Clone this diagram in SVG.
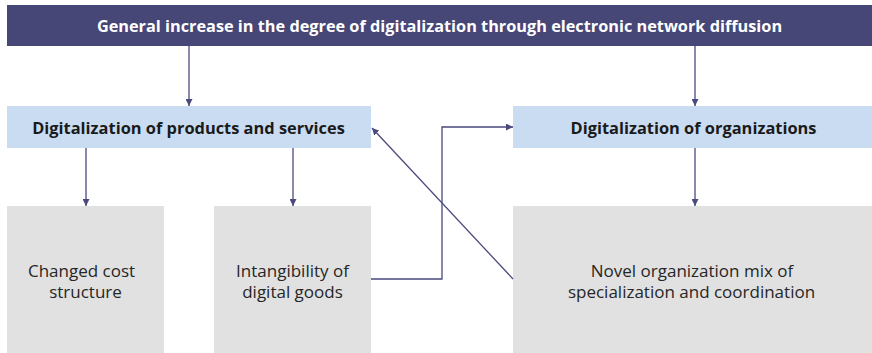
<svg xmlns="http://www.w3.org/2000/svg" width="872" height="353" viewBox="0 0 872 353">
<defs>
<style>
.top{fill:#464677}
.blue{fill:#cadcf2}
.grey{fill:#e1e1e1}
.t1{font-family:"Open Sans","Noto Sans",sans-serif;font-weight:bold;font-size:16.3px;fill:#ffffff;text-anchor:middle}
.t2{font-family:"Open Sans","Noto Sans",sans-serif;font-weight:bold;font-size:16.4px;fill:#1a1a1a;text-anchor:middle}
.t3{font-family:"Open Sans","Noto Sans",sans-serif;font-size:17px;fill:#262626;text-anchor:middle}
.c{fill:none;stroke:#4a4a7e;stroke-width:1.3}
</style>
<marker id="ah" viewBox="0 0 10 10" refX="10" refY="5" markerWidth="7" markerHeight="7" markerUnits="userSpaceOnUse" orient="auto">
<path d="M0,0 L10,5 L0,10 z" fill="#4a4a7e"/>
</marker>
</defs>
<g id="n-top">
<rect class="top" x="7" y="5" width="865" height="41"/>
<text class="t1" x="439.5" y="31.5">General increase in the degree of digitalization through electronic network diffusion</text>
</g>
<g id="n-products">
<rect class="blue" x="7" y="106" width="364" height="42"/>
<text class="t2" x="188.5" y="133.5">Digitalization of products and services</text>
</g>
<g id="n-organizations">
<rect class="blue" x="513" y="106" width="359" height="42"/>
<text class="t2" x="693.5" y="133.5">Digitalization of organizations</text>
</g>
<g id="n-cost">
<rect class="grey" x="7" y="206" width="157" height="147"/>
<text class="t3"><tspan x="81.5" y="276.5">Changed cost</tspan><tspan x="85.5" y="298">structure</tspan></text>
</g>
<g id="n-intangibility">
<rect class="grey" x="214" y="206" width="157" height="147"/>
<text class="t3"><tspan x="292.5" y="276.5">Intangibility of</tspan><tspan x="292.5" y="298">digital goods</tspan></text>
</g>
<g id="n-novel">
<rect class="grey" x="513" y="206" width="359" height="147"/>
<text class="t3"><tspan x="692" y="276.5">Novel organization mix of</tspan><tspan x="691.5" y="298">specialization and coordination</tspan></text>
</g>
<g id="connectors">
<line class="c" x1="189" y1="46" x2="189" y2="106" marker-end="url(#ah)"/>
<line class="c" x1="695" y1="46" x2="695" y2="106" marker-end="url(#ah)"/>
<line class="c" x1="86" y1="148" x2="86" y2="206" marker-end="url(#ah)"/>
<line class="c" x1="293" y1="148" x2="293" y2="206" marker-end="url(#ah)"/>
<line class="c" x1="695" y1="148" x2="695" y2="206" marker-end="url(#ah)"/>
<polyline class="c" points="371,279 442,279 442,127 513,127" marker-end="url(#ah)"/>
<line class="c" x1="513" y1="279" x2="372" y2="128" marker-end="url(#ah)"/>
</g>
</svg>
